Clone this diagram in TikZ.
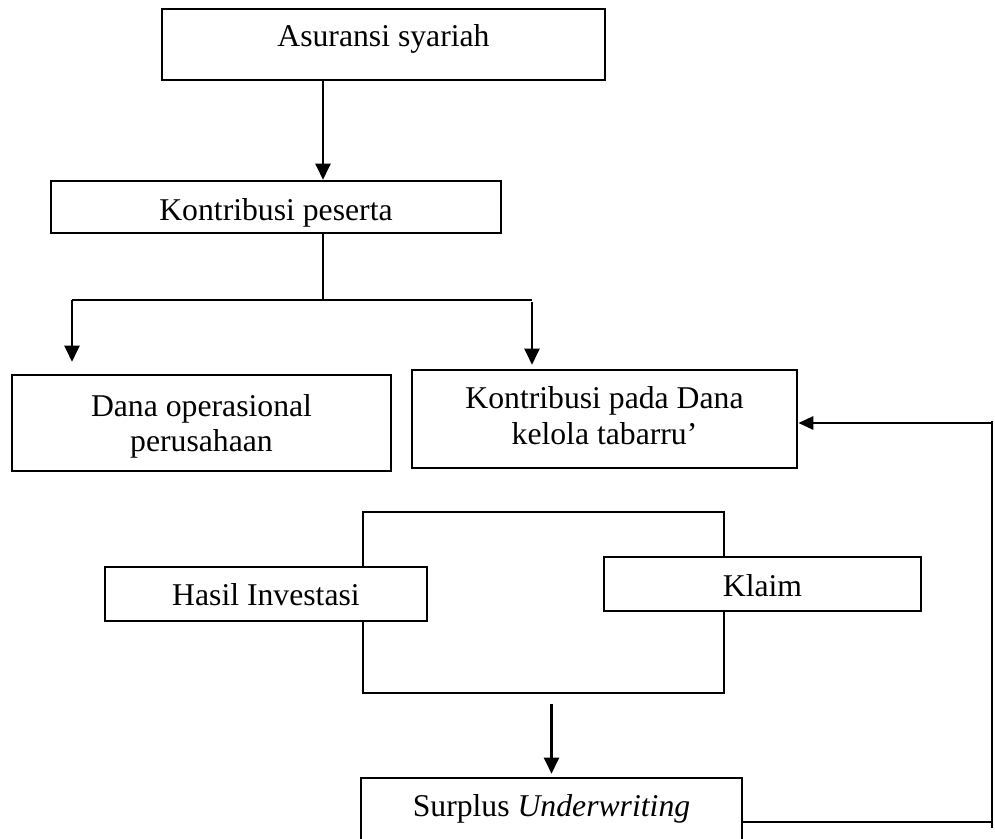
\documentclass[tikz,border=0pt]{standalone}
\usepackage{fontspec}
\setmainfont{Liberation Serif}
\usetikzlibrary{arrows.meta,calc}
\begin{document}
\begin{tikzpicture}[x=1bp,y=-1bp,
  box/.style={draw, line width=2.6bp, fill=white, inner sep=0pt},
  txt/.style={inner sep=0pt, anchor=base, font=\fontsize{31.7bp}{36bp}\selectfont},
  arr/.style={line width=2.3bp, -{Triangle[width=15bp,length=16bp]}},
  thinline/.style={line width=1.3bp},
  farr/.style={line width=2.6bp, -{Triangle[width=13bp,length=15bp]}}
]
\useasboundingbox (0,0) rectangle (995,839);
\clip (0,0) rectangle (995,839);

% boxes
\node[box, minimum width=443bp, minimum height=71bp] (asr) at (383.5,44.5) {};
\node[box, minimum width=450bp, minimum height=52bp] (kp) at (276,207) {};
\node[box, minimum width=379bp, minimum height=96bp] (dana) at (201.5,423) {};
\node[box, minimum width=385bp, minimum height=98bp] (kpd) at (604.5,419) {};
\node[draw, line width=2.6bp, inner sep=0pt, minimum width=361bp, minimum height=181bp] (frame) at (543.5,602.5) {};
\node[box, minimum width=322bp, minimum height=54bp] (hasil) at (266,594) {};
\node[box, minimum width=317bp, minimum height=54bp] (klaim) at (762.5,584) {};
\node[box, minimum width=381bp, minimum height=72bp] (sur) at (551.5,814) {};

% texts
\node[txt] (tasr) at ($(asr.north)+(0,39)$) {Asuransi syariah};
\node[txt] (tkp) at ($(kp.north)+(0,41)$) {Kontribusi peserta};
\node[txt] (tdana1) at ($(dana.north)+(0,43)$) {Dana operasional};
\node[txt] (tdana2) at ($(dana.north)+(0,78)$) {perusahaan};
\node[txt] (tkpd1) at ($(kpd.north)+(0,40)$) {Kontribusi pada Dana};
\node[txt] (tkpd2) at ($(kpd.north)+(0,76)$) {kelola tabarru’};
\node[txt] (thasil) at ($(hasil.north)+(0,40)$) {Hasil Investasi};
\node[txt] (tklaim) at ($(klaim.north)+(0,41)$) {Klaim};
\node[txt] (tsur) at ($(sur.north)+(0,40)$) {Surplus \textit{Underwriting}};

% helper coordinates
\coordinate (ca) at (323,0);
\coordinate (jn) at (323,300);
\coordinate (bl) at (72,300);
\coordinate (br) at (532,300);
\coordinate (fbt) at (992,423);
\coordinate (fbb) at (992,822);

% connectors
\draw[arr] (asr.south -| ca) -- (kp.north -| ca);
\draw[thinline] (kp.south -| ca) -- (jn);
\draw[thinline] (bl) -- (br);
\draw[arr, shorten >=12bp] (bl) -- (dana.north -| bl);
\draw[arr, shorten >=4bp, shorten <=2bp] (br) -- (kpd.north -| br);
\draw[line width=2bp] ($(fbt)+(0,-2)$) -- ($(fbb)+(0,6)$);
\draw[farr] (fbt) -- (kpd.east |- fbt);
\draw[thinline] (sur.east |- fbb) -- (fbb);
\draw[arr, shorten <=10bp, shorten >=3bp] (frame.south -| sur.north) -- (sur.north);
\end{tikzpicture}
\end{document}
